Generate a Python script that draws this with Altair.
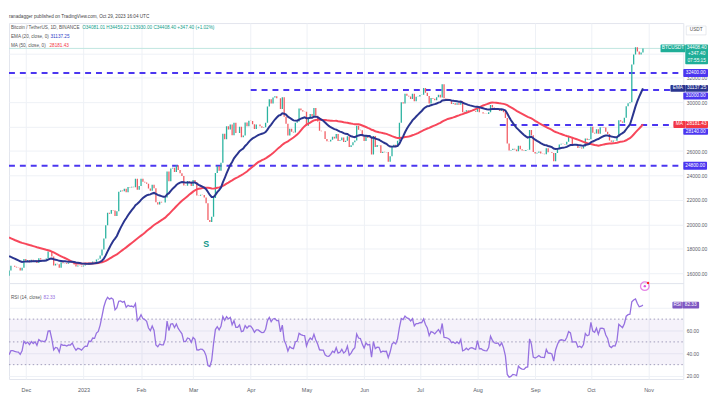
import altair as alt
import numpy as np
import pandas as pd

# ---------------- data (daily closes, BTC/USDT, read/estimated) ----------------
month_starts = ["2022-10-03", "2022-11-01", "2022-12-01", "2023-01-01", "2023-02-01",
                "2023-03-01", "2023-04-01", "2023-05-01", "2023-06-01", "2023-07-01",
                "2023-08-01", "2023-09-01", "2023-10-01"]
oct22 = [19630, 20340, 20160, 19955, 19530, 19415, 19445, 19130, 19060, 19155, 19380, 19185, 19070,
         19265, 19550, 19330, 19125, 19040, 19165, 19205, 19570, 19330, 20080, 20770, 20290, 20595,
         20815, 20630, 20490]
nov22 = [20480, 20150, 20205, 21150, 21300, 20905, 20590, 18540, 15880, 17590, 17070, 16810, 16330,
         16620, 16900, 16660, 16690, 16700, 16700, 16280, 15780, 16230, 16600, 16600, 16520, 16460,
         16440, 16210, 16440, 17170]
dec22 = [16970, 17090, 16890, 17110, 16970, 17090, 16840, 17225, 17130, 17130, 17090, 17210, 17780,
         17800, 17360, 16630, 16780, 16740, 16440, 16900, 16820, 16830, 16780, 16840, 16830, 16920,
         16710, 16550, 16630, 16600, 16540]
jan23 = [16620, 16680, 16670, 16850, 16830, 16950, 16940, 17120, 17180, 17440, 17940, 18850, 19930,
         20950, 20870, 21180, 21130, 20680, 21070, 22670, 22780, 22710, 22920, 22630, 23060, 23010,
         23080, 23030, 23740, 22830, 23130]
feb23 = [23730, 23490, 23430, 23330, 22930, 22760, 23250, 22960, 21800, 21630, 21860, 21780, 21780,
         22200, 24330, 23520, 24570, 24630, 24280, 24840, 24450, 24190, 23950, 23190, 23160, 23550,
         23490, 23140]
mar23 = [23630, 23470, 22360, 22350, 22430, 22410, 22200, 21720, 20360, 20190, 20630, 22160, 24200,
         24750, 24380, 25050, 27420, 26970, 28040, 27770, 28180, 27300, 28330, 27480, 27490, 27990,
         27140, 27270, 28350, 28030, 28480]
apr23 = [28460, 28200, 27800, 28170, 28170, 28030, 27910, 27950, 28330, 29650, 30240, 29890, 30390,
         30490, 30320, 30320, 29450, 30400, 28820, 28240, 27270, 27820, 27590, 27520, 28310, 28420,
         29480, 29340, 29250, 29230]
may23 = [28070, 28680, 29030, 28850, 29530, 28900, 28430, 27660, 27630, 27620, 26990, 26800, 26780,
         26930, 27170, 27030, 27400, 26830, 26890, 27110, 26750, 26850, 27220, 26330, 26480, 26720,
         26870, 28080, 27740, 27700, 27210]
jun23 = [26820, 27250, 27070, 27120, 25730, 27230, 26340, 26500, 26480, 25840, 25940, 25900, 25920,
         25120, 25580, 26330, 26510, 26340, 26840, 28310, 30000, 29890, 30690, 30530, 30470, 30270,
         30690, 30080, 30450, 30470]
jul23 = [30590, 30620, 31160, 30770, 30510, 29900, 30350, 30290, 30170, 30410, 30620, 30390, 31470,
         30320, 30290, 30240, 30140, 29860, 29910, 29800, 29910, 29790, 30080, 29180, 29230, 29350,
         29210, 29320, 29350, 29280, 29230]
aug23 = [29700, 29180, 29180, 29080, 29050, 29040, 29180, 29770, 29560, 29430, 29400, 29420, 29280,
         29410, 29170, 28700, 26620, 26050, 26090, 26190, 26120, 25990, 26430, 26160, 26050, 26010,
         26090, 26110, 27720, 27300, 25930]
sep23 = [25800, 25870, 25970, 25810, 25780, 25750, 26240, 25910, 25900, 25840, 25160, 25840, 26230,
         26540, 26600, 26570, 26530, 26760, 27210, 27130, 26570, 26580, 26580, 26250, 26300, 26220,
         26370, 27030, 26910, 26970]
oct23 = [27990, 27500, 27430, 27790, 27420, 27950, 27970, 27940, 27590, 27390, 26870, 26760, 26870,
         26850, 27150, 28520, 28420, 28330, 28720, 29680, 29920, 29990, 33090, 33900, 34500, 34160,
         33910, 34081, 34408.4]
month_closes = [oct22, nov22, dec22, jan23, feb23, mar23, apr23, may23, jun23, jul23, aug23, sep23, oct23]

first_shown = "2022-11-22"
price_ticks = [16000, 18000, 20000, 22000, 24000, 26000, 28000, 30000, 32000, 34000]
hidden_price_labels = [28000, 34000]   # covered by the price-scale tags in the reference
rsi_ticks = [20, 40, 60, 80]
hidden_rsi_labels = [80]
month_ticks = [0, 31, 62, 90, 121, 151, 182, 212, 243, 274, 304, 335]
month_labels = ["Dec", "2023", "Feb", "Mar", "Apr", "May", "Jun", "Jul", "Aug", "Sep", "Oct", "Nov"]

levels = [32400, 31000, 28140, 24800]
level_starts = ["2022-11-21", "2023-04-01", "2023-08-13", "2022-11-21"]
level_texts = ["32400.00", "31000.00", "28140.00", "24800.00"]

last_close = 34408.40
ema_value = 31137.25
ma_value = 28181.43
rsi_value = 82.33
s_date, s_price = "2023-03-08", 18400
alert_date, alert_rsi = "2023-10-30", 99.0

# ---------------- derived table ----------------
base_day = pd.Timestamp("2022-12-01")
rows = []
for start, vals in zip(month_starts, month_closes):
    for i, v in enumerate(vals):
        rows.append((pd.Timestamp(start) + pd.Timedelta(days=i), float(v)))
df = pd.DataFrame(rows, columns=["date", "close"])
df["open"] = df["close"].shift(1)
df["ema20"] = df["close"].ewm(span=20, adjust=False).mean()
df["ma50"] = df["close"].rolling(50).mean()
delta = df["close"].diff()
gain = delta.clip(lower=0)
loss = -delta.clip(upper=0)
ag = gain.ewm(alpha=1 / 14, adjust=False).mean()
al = loss.ewm(alpha=1 / 14, adjust=False).mean()
df["rsi"] = 100 - 100 / (1 + ag / al)
df["d"] = (df["date"] - base_day).dt.days
df["dir"] = np.where(df["close"] >= df["open"], "up", "down")
view = df[df["date"] >= pd.Timestamp(first_shown)].drop(columns=["date"]).reset_index(drop=True)

def dnum(s):
    return (pd.Timestamp(s) - base_day).days

# ---------------- styling ----------------
W, H_TOP, H_RSI = 682, 263, 97
XMIN, XMAX = -9.04, 353.7
up_col, down_col = "#2bb3a0", "#f25c63"
ema_col, ma_col = "#2a358f", "#f7475b"
lvl_col = "#4b36f0"
teal_box = "#1fae98"
rsi_col = "#9671e0"
grid_col = "#eef1f6"
lab_col = "#5a5d68"
FONT = "Liberation Sans"

xscale = alt.Scale(domain=[XMIN, XMAX], nice=False, zero=False)
ytop = alt.Scale(domain=[15190, 36486], nice=False, zero=False)
yrsi = alt.Scale(domain=[17.4, 101.7], nice=False, zero=False)

label_expr = "[" + ",".join("'%s'" % m for m in month_labels) + "][indexof([" + \
    ",".join(str(t) for t in month_ticks) + "], datum.value)]"

def hide_expr(hidden):
    cond = " || ".join("datum.value == %s" % h for h in hidden)
    return "(%s) ? '' : format(datum.value, '.2f')" % cond

xaxis_top = alt.Axis(values=month_ticks, labels=False, ticks=False, domain=False, grid=True,
                     gridColor=grid_col, title=None)
xaxis_bot = alt.Axis(values=month_ticks, labelExpr=label_expr, ticks=False, domain=False, grid=True,
                     gridColor=grid_col, title=None, labelFontSize=5.5, labelColor=lab_col,
                     labelPadding=9, labelOverlap=False, labelFont=FONT)
yaxis_top = alt.Axis(orient="right", values=price_ticks, labelExpr=hide_expr(hidden_price_labels),
                     ticks=False, domain=False, grid=True, gridColor=grid_col, title=None,
                     labelFontSize=5, labelColor=lab_col, labelPadding=3, labelFont=FONT)
yaxis_rsi = alt.Axis(orient="right", values=rsi_ticks, labelExpr=hide_expr(hidden_rsi_labels),
                     ticks=False, domain=False, grid=True, gridColor=grid_col, title=None,
                     labelFontSize=5, labelColor=lab_col, labelPadding=3, labelFont=FONT)

def XT(f):
    return alt.X(f + ":Q", scale=xscale, axis=xaxis_top)

def XB(f):
    return alt.X(f + ":Q", scale=xscale, axis=xaxis_bot)

def YT(f):
    return alt.Y(f + ":Q", scale=ytop, axis=yaxis_top)

def YR(f):
    return alt.Y(f + ":Q", scale=yrsi, axis=yaxis_rsi)

def text_at(t, x, y, color, size=4.7, weight="normal"):
    return alt.Chart(pd.DataFrame({"t": [t]})).mark_text(
        align="left", baseline="middle", fontSize=size, color=color, font=FONT, fontWeight=weight
    ).encode(x=alt.value(x), y=alt.value(y), text="t:N")

def label_box(value, x0, x1, dy0, dy1, fill, texts, Y, tcolor="white"):
    src = pd.DataFrame({"p": [value]})
    layers = [alt.Chart(src).mark_rect(color=fill, yOffset=dy0, y2Offset=dy1, cornerRadius=1).encode(
        x=alt.value(x0), x2=alt.value(x1), y=Y("p"), y2="p")]
    n = len(texts)
    for i, t in enumerate(texts):
        cy = dy0 + (i + 0.5) * (dy1 - dy0) / n
        layers.append(alt.Chart(pd.DataFrame({"p": [value], "t": [t]})).mark_text(
            fontSize=4.8, color=tcolor, dy=cy, baseline="middle", font=FONT
        ).encode(x=alt.value((x0 + x1) / 2), y=Y("p"), text="t:N"))
    return layers

# ---------------- top panel ----------------
lvl_df = pd.DataFrame({"p": levels,
                       "ds": [max(dnum(s), XMIN) for s in level_starts],
                       "de": [XMAX] * len(levels)})

bound_rule = alt.Chart(pd.DataFrame({"a": [0]})).mark_rule(color="white", strokeWidth=1).encode(
    x=alt.value(0), x2=alt.value(W), y=alt.value(-12))

price_line = alt.Chart(pd.DataFrame({"p": [last_close], "ds": [XMIN], "de": [XMAX]})).mark_rule(
    color="#bfe6e0", strokeWidth=1).encode(x=XT("ds"), x2="de", y=YT("p"))

dashed = alt.Chart(lvl_df).mark_rule(color=lvl_col, strokeWidth=2, strokeDash=[6, 5], clip=True).encode(
    x=XT("ds"), x2="de", y=YT("p"))

candles = alt.Chart(view).mark_rule(strokeWidth=1.3, clip=True).encode(
    x=XT("d"), y=YT("open"), y2="close",
    color=alt.Color("dir:N", scale=alt.Scale(domain=["up", "down"], range=[up_col, down_col]), legend=None))

ma_line = alt.Chart(view).mark_line(color=ma_col, strokeWidth=2, clip=True).encode(x=XT("d"), y=YT("ma50"))
ema_line = alt.Chart(view).mark_line(color=ema_col, strokeWidth=2, clip=True).encode(x=XT("d"), y=YT("ema20"))

s_mark = alt.Chart(pd.DataFrame({"d": [dnum(s_date)], "p": [s_price], "t": ["S"]})).mark_text(
    color="#139689", fontSize=9, fontWeight="bold", font=FONT).encode(x=XT("d"), y=YT("p"), text="t:N")

top_layers = [bound_rule, price_line, dashed, candles, ma_line, ema_line, s_mark,
              text_at("ranadagger published on TradingView.com, Oct 29, 2023 16:04 UTC", 0, -6, "#444"),
              text_at("Bitcoin / TetherUS, 1D, BINANCE", 2, 5, "#555"),
              text_at("O34081.01  H34459.22  L33930.00  C34408.40  +347.40 (+1.02%)", 74, 5, "#13a08c"),
              text_at("EMA (20, close, 0)", 2, 14, "#555"),
              text_at("31137.25", 42, 14, "#2f3fc8"),
              text_at("MA (50, close, 0)", 2, 23, "#555"),
              text_at("28181.43", 41, 23, "#f23645")]

# USDT box
top_layers.append(alt.Chart(pd.DataFrame({"a": [0]})).mark_rect(
    fill="white", stroke="#d8dbe3", strokeWidth=0.6).encode(
    x=alt.value(685), x2=alt.value(705), y=alt.value(3), y2=alt.value(12)))
top_layers.append(alt.Chart(pd.DataFrame({"t": ["USDT"]})).mark_text(
    fontSize=4.8, color="#555", font=FONT, baseline="middle").encode(
    x=alt.value(695), y=alt.value(7.5), text="t:N"))

# price-scale labels
top_layers += label_box(last_close, 659, 684, -4, 4, teal_box, ["BTCUSDT"], YT)
top_layers += label_box(last_close, 684, 707, -4, 16, teal_box, ["34408.40", "+347.40", "07:55:15"], YT)
top_layers += label_box(levels[0], 682, 707, -4, 4, lvl_col, [level_texts[0]], YT)
top_layers += label_box(ema_value, 669, 684, -3.5, 3.5, ema_col, ["EMA"], YT)
top_layers += label_box(ema_value, 684, 707, -3.5, 3.5, ema_col, ["31137.25"], YT)
top_layers += label_box(levels[1], 682, 707, 2.5, 9.5, lvl_col, [level_texts[1]], YT)
top_layers += label_box(ma_value, 672, 684, -3.5, 3.5, "#f23645", ["MA"], YT)
top_layers += label_box(ma_value, 684, 707, -3.5, 3.5, "#f23645", ["28181.43"], YT)
top_layers += label_box(levels[2], 682, 707, 3.5, 10, lvl_col, [level_texts[2]], YT)
top_layers += label_box(levels[3], 682, 706, -4, 4, lvl_col, [level_texts[3]], YT)

top = alt.layer(*top_layers).properties(width=W, height=H_TOP)

# ---------------- RSI panel ----------------
band = alt.Chart(pd.DataFrame({"ds": [XMIN], "de": [XMAX], "hi": [70], "lo": [30]})).mark_rect(
    color="#7e57c2", opacity=0.08).encode(x=XB("ds"), x2="de", y=YR("hi"), y2="lo")
dots = alt.Chart(pd.DataFrame({"r": [70, 50, 30], "ds": [XMIN] * 3, "de": [XMAX] * 3})).mark_rule(
    color="#a09cbb", strokeWidth=1, strokeDash=[1.5, 2.5]).encode(x=XB("ds"), x2="de", y=YR("r"))
rsi_line = alt.Chart(view).mark_line(color=rsi_col, strokeWidth=1.3, clip=True).encode(
    x=XB("d"), y=YR("rsi"))
alert_src = pd.DataFrame({"d": [dnum(alert_date)], "r": [alert_rsi]})
alert_ring = alt.Chart(alert_src).mark_point(shape="circle", size=75, filled=False,
                                             color="#dd55dd", strokeWidth=1.3).encode(x=XB("d"), y=YR("r"))
alert_dot = alt.Chart(alert_src).mark_circle(size=6, color="#dd55dd", opacity=1).encode(x=XB("d"), y=YR("r"))
alert_red = alt.Chart(alert_src).mark_circle(size=6, color="#ff2020", opacity=1, xOffset=3.3,
                                             yOffset=-3.3).encode(x=XB("d"), y=YR("r"))

rsi_layers = [band, dots, rsi_line, alert_ring, alert_dot, alert_red,
              text_at("RSI (14, close)", 2, 15, "#555"),
              text_at("82.33", 35, 15, rsi_col)]
rsi_layers += label_box(rsi_value, 671, 681, -3.5, 3.5, "#7e57c2", ["RSI"], YR)
rsi_layers += label_box(rsi_value, 681, 698, -3.5, 3.5, "#7e57c2", ["82.33"], YR)

bottom = alt.layer(*rsi_layers).properties(width=W, height=H_RSI)

chart = alt.vconcat(top, bottom, spacing=0, bounds="flush").properties(
    padding=0, background="white"
).configure_view(stroke="#e3e6ee").configure_axis(labelFont=FONT)

chart.save("out.html", embed_options={"renderer": "svg", "actions": False})
